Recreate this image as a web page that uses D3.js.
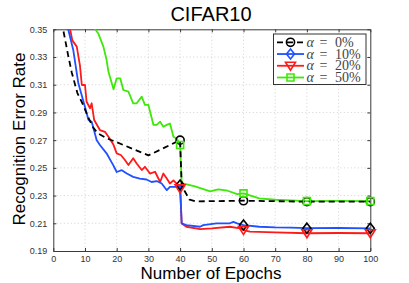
<!DOCTYPE html>
<html>
<head>
<meta charset="utf-8">
<script src="https://cdn.jsdelivr.net/npm/d3@7"></script>
<style>
body{margin:0;background:#fff;}
svg{display:block;}
</style>
</head>
<body>
<script>
// data: [epoch, error rate]
var alpha0 = [[2.5,0.37],[3.1,0.35],[4.7,0.331],[5.8,0.319],[7.6,0.304],[9.5,0.295],[11.1,0.286],[12.6,0.279],[14,0.275],[17,0.2712],[20,0.2685],[30,0.259],[40,0.270],[40.5,0.237],[43,0.227],[45,0.2258],[60,0.2263],[80,0.2256],[100,0.2256]];
var alpha10 = [[4,0.36],[4.7,0.35],[6.3,0.335],[7.9,0.311],[10,0.294],[11.1,0.2845],[12.1,0.2833],[13.7,0.270],[14.7,0.2665],[16.8,0.2605],[18.9,0.252],[20,0.247],[21.6,0.2483],[23.2,0.2459],[25.2,0.2435],[27.3,0.2423],[29.4,0.2416],[31,0.2398],[32.6,0.2405],[34.2,0.2387],[35.8,0.2339],[36.8,0.2363],[38.9,0.2363],[40,0.2376],[40.5,0.2099],[42,0.2087],[46.3,0.2075],[47.3,0.2087],[51.5,0.21],[55.7,0.21],[56.8,0.211],[58,0.21],[60,0.2087],[65,0.2075],[70,0.207],[75,0.2068],[80,0.2065],[90,0.2066],[100,0.2064]];
var alpha20 = [[5,0.36],[5.3,0.35],[6,0.342],[7.4,0.3375],[8.4,0.324],[9,0.3098],[10,0.3098],[10.5,0.2977],[11.6,0.293],[12.1,0.2966],[12.9,0.2845],[14.7,0.2773],[16.3,0.276],[17.4,0.2725],[18.9,0.2671],[20,0.2605],[21.3,0.2593],[22.6,0.2557],[23.7,0.252],[25.2,0.2569],[26.3,0.2532],[27.9,0.2484],[28.9,0.2508],[30.5,0.2459],[32.1,0.2472],[33.7,0.2398],[34.7,0.2459],[35.8,0.2423],[36.8,0.2387],[37.9,0.241],[38.9,0.2387],[40,0.2352],[40.5,0.2099],[42,0.2075],[46.3,0.2058],[50,0.2063],[55.7,0.2075],[58.9,0.2063],[60,0.2051],[62,0.204],[70,0.2035],[80,0.2028],[90,0.203],[100,0.2028]];
var alpha50 = [[12.5,0.36],[13.2,0.35],[14.2,0.347],[15.8,0.3375],[16.8,0.328],[17.4,0.3194],[19,0.3067],[20,0.3146],[21.1,0.3146],[22.1,0.3062],[23.7,0.305],[25.2,0.2966],[26.3,0.2966],[27.9,0.3014],[28.9,0.2954],[30,0.2954],[31.6,0.281],[32.6,0.281],[33.7,0.2833],[34.7,0.2797],[35.8,0.281],[36.8,0.282],[37.9,0.2725],[39,0.271],[40,0.2665],[40.5,0.239],[44.7,0.2366],[49.5,0.233],[52,0.2345],[55,0.2335],[58,0.231],[60,0.2316],[65,0.228],[70,0.227],[75,0.2265],[80,0.226],[90,0.2262],[100,0.226]];
var markerEpochs = [40,60,80,100];
var legendLabels = ["0%","10%","20%","50%"];
var xTicks = d3.range(0,101,10);
var yTicks = [0.19,0.21,0.23,0.25,0.27,0.29,0.31,0.33,0.35];

var W = 409, H = 283;
var pLeft = 53.3, pRight = 370.3, pTop = 29.3, pBottom = 251;

var x = d3.scaleLinear().domain([0,100]).range([pLeft,pRight]);
var y = d3.scaleLinear().domain([0.19,0.35]).range([pBottom,pTop]);

var series = [
  {data:alpha0,  color:"#000", dash:"6,4", marker:"circle",   mcolor:"#000"},
  {data:alpha10, color:"#2050ff", dash:null, marker:"diamond", mcolor:"#000"},
  {data:alpha20, color:"#ff1a1a", dash:null, marker:"triangle", mcolor:"#ff1a1a"},
  {data:alpha50, color:"#3ee80a", dash:null, marker:"square",  mcolor:"#3ee80a"}
];

var SVG = d3.select("body").append("svg").attr("width",W).attr("height",H);

SVG.append("defs").append("clipPath").attr("id","plotclip")
   .append("rect").attr("x",pLeft).attr("y",pTop).attr("width",pRight-pLeft).attr("height",pBottom-pTop);

// grid
var grid = SVG.append("g").attr("stroke","#c8c8c8").attr("stroke-width",0.8).attr("stroke-dasharray","1,2.5");
grid.selectAll(".vx").data(xTicks.slice(1,-1)).enter().append("line")
    .attr("x1",function(d){return x(d);}).attr("x2",function(d){return x(d);})
    .attr("y1",pTop).attr("y2",pBottom);
grid.selectAll(".hy").data(yTicks.slice(1,-1)).enter().append("line")
    .attr("x1",pLeft).attr("x2",pRight)
    .attr("y1",function(d){return y(d);}).attr("y2",function(d){return y(d);});

// axes (MATLAB style box, ticks inward on all sides)
var axisColor = "#3a3a3a";
function styleAxis(g, showText){
  g.select(".domain").attr("stroke",axisColor);
  g.selectAll(".tick line").attr("stroke",axisColor);
  g.selectAll(".tick text").attr("fill","#333").attr("font-family","'Liberation Sans', Arial, sans-serif").attr("font-size","9px");
  if(!showText) g.selectAll(".tick text").remove();
}
var fmtY = d3.format(".2f");
styleAxis(SVG.append("g").attr("transform","translate(0,"+pBottom+")")
  .call(d3.axisBottom(x).tickValues(xTicks).tickSizeInner(-3).tickSizeOuter(0).tickPadding(4.3)), true);
styleAxis(SVG.append("g").attr("transform","translate(0,"+pTop+")")
  .call(d3.axisTop(x).tickValues(xTicks).tickSizeInner(-3).tickSizeOuter(0)), false);
styleAxis(SVG.append("g").attr("transform","translate("+pLeft+",0)")
  .call(d3.axisLeft(y).tickValues(yTicks).tickFormat(fmtY).tickSizeInner(-3).tickSizeOuter(0).tickPadding(6)), true);
styleAxis(SVG.append("g").attr("transform","translate("+pRight+",0)")
  .call(d3.axisRight(y).tickValues(yTicks).tickSizeInner(-3).tickSizeOuter(0)), false);

// lines
var line = d3.line().x(function(d){return x(d[0]);}).y(function(d){return y(d[1]);});
var lines = SVG.append("g").attr("clip-path","url(#plotclip)");
series.slice().reverse().forEach(function(s){
  lines.append("path").datum(s.data)
    .attr("d",line).attr("fill","none")
    .attr("stroke",s.color).attr("stroke-width",1.8)
    .attr("stroke-dasharray",s.dash)
    .attr("stroke-linejoin","round");
});

// markers
function markerPath(type){
  if(type=="circle") return d3.symbol().type(d3.symbolCircle).size(52)();
  if(type=="diamond") return "M0,-5L4,0L0,5L-4,0Z";
  if(type=="triangle") return "M-5,-3.5L5,-3.5L0,4.5Z";
  return "M-3.5,-3.5L3.5,-3.5L3.5,3.5L-3.5,3.5Z";
}
var marks = SVG.append("g");
series.forEach(function(s){
  var pts = s.data.filter(function(d){return markerEpochs.indexOf(d[0])>=0;});
  marks.selectAll(null).data(pts).enter().append("path")
    .attr("d",markerPath(s.marker))
    .attr("transform",function(d){return "translate("+x(d[0])+","+y(d[1])+")";})
    .attr("fill","none").attr("stroke",s.mcolor).attr("stroke-width",1.6);
});

// legend
var lg = SVG.append("g");
lg.append("rect").attr("x",273.5).attr("y",34).attr("width",92.5).attr("height",50.5)
  .attr("fill","#fff").attr("stroke","#333").attr("stroke-width",1);
var legendY = d3.scalePoint().domain(legendLabels).range([42.3,77.5]);
series.forEach(function(s,i){
  var ly = legendY(legendLabels[i]);
  lg.append("line").attr("x1",277).attr("x2",304).attr("y1",ly).attr("y2",ly)
    .attr("stroke",s.color).attr("stroke-width",1.8).attr("stroke-dasharray",s.dash);
  lg.append("path").attr("d",markerPath(s.marker)).attr("transform","translate(290.5,"+ly+")")
    .attr("fill","none").attr("stroke",s.color).attr("stroke-width",1.6);
  var t = lg.append("text").attr("y",ly+4.5).attr("fill","#444")
    .attr("font-family","'Liberation Serif','DejaVu Serif',serif").attr("font-size","14px");
  t.append("tspan").attr("x",306.5).attr("font-style","italic").text("α");
  t.append("tspan").attr("x",319.5).text("=");
  t.append("tspan").attr("x",335).text(legendLabels[i]);
});

// titles
var sans = "'Liberation Sans', Arial, sans-serif";
SVG.append("text").attr("x",211).attr("y",21).attr("text-anchor","middle")
  .attr("font-family",sans).attr("font-size","20px").attr("fill","#000").text("CIFAR10");
SVG.append("text").attr("x",211).attr("y",279).attr("text-anchor","middle")
  .attr("font-family",sans).attr("font-size","17px").attr("fill","#000").text("Number of Epochs");
SVG.append("text").attr("transform","translate(25,139) rotate(-90)").attr("text-anchor","middle")
  .attr("font-family",sans).attr("font-size","17px").attr("fill","#000").text("Recognition Error Rate");
</script>
</body>
</html>
